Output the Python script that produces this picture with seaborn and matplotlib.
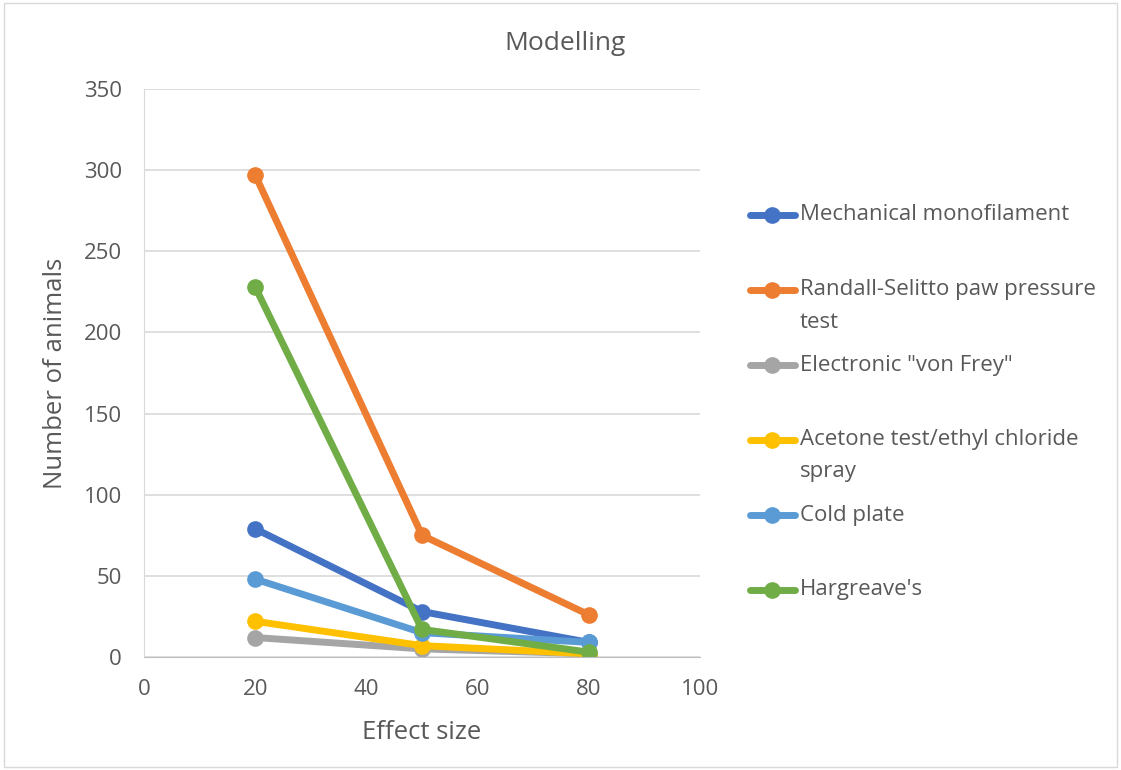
import pandas as pd
import numpy as np
import seaborn as sns
import matplotlib.pyplot as plt
from matplotlib.patches import Rectangle
from matplotlib.lines import Line2D

# Données
effect_size = [20, 50, 80]
mechanical = [79, 28, 9]
randall = [297, 75, 26]
electronic = [12, 5, 2]
acetone = [22, 7, 2]
cold_plate = [48, 15, 9]
hargreave = [228, 17, 3]

series_names = ["Mechanical monofilament", "Randall-Selitto paw pressure test",
                "Electronic \"von Frey\"", "Acetone test/ethyl chloride spray",
                "Cold plate", "Hargreave's"]
legend_labels = ["Mechanical monofilament", "Randall-Selitto paw pressure\ntest",
                 "Electronic \"von Frey\"", "Acetone test/ethyl chloride\nspray",
                 "Cold plate", "Hargreave's"]
colors = ["#4472C4", "#ED7D31", "#A5A5A5", "#FFC000", "#5B9BD5", "#70AD47"]

rows = []
for name, vals in zip(series_names, [mechanical, randall, electronic, acetone, cold_plate, hargreave]):
    for x, v in zip(effect_size, vals):
        rows.append({"effect": x, "animals": v, "test": name})
df = pd.DataFrame(rows)

sns.set_style("white")
plt.rcParams['font.family'] = ['Open Sans', 'DejaVu Sans']
text_col = "#595959"
W, H = 1121, 770

fig = plt.figure(figsize=(W / 100, H / 100), dpi=100)
ax = fig.add_axes([144 / W, 1 - 657 / H, (700 - 144) / W, (657 - 89) / H])

sns.lineplot(data=df, x="effect", y="animals", hue="test", hue_order=series_names,
             palette=colors, marker="o", markersize=12, markeredgewidth=0,
             linewidth=5, ax=ax, legend=False)

ax.set_xlim(0, 100)
ax.set_ylim(0, 350)
ax.set_xticks(np.arange(0, 101, 20))
ax.set_yticks(np.arange(0, 351, 50))
ax.grid(axis='y', color="#D9D9D9", linewidth=1.2)
ax.set_axisbelow(True)
for side in ["top", "right"]:
    ax.spines[side].set_visible(False)
ax.spines["left"].set_color("#D9D9D9")
ax.spines["bottom"].set_color("#BFBFBF")
ax.tick_params(axis='both', length=0, labelsize=16, colors=text_col, pad=16)
ax.set_xlabel("Effect size", fontsize=18.5, color=text_col, labelpad=14)
ax.set_ylabel("Number of animals", fontsize=18.5, color=text_col, labelpad=11)
fig.text(565 / W, 1 - 43 / H, "Modelling", ha="center", va="center",
         fontsize=19, color=text_col)

# Légende dessinée à la main (marqueur aligné sur la première ligne)
for i, (lab, c) in enumerate(zip(legend_labels, colors)):
    y = 1 - (215 + 75 * i) / H
    fig.add_artist(Line2D([750 / W, 795 / W], [y, y], color=c, linewidth=5,
                          transform=fig.transFigure))
    fig.add_artist(Line2D([772 / W], [y], color=c, marker="o", markersize=12,
                          markeredgewidth=0, transform=fig.transFigure))
    for j, part in enumerate(lab.split("\n")):
        fig.text(800 / W, y - 32 * j / H, part, ha="left", va="center",
                 fontsize=16, color=text_col)

fig.patches.append(Rectangle((0.004, 0.004), 0.992, 0.992, transform=fig.transFigure,
                             fill=False, edgecolor="#D9D9D9", linewidth=1))

plt.savefig("out.png", dpi=100)
